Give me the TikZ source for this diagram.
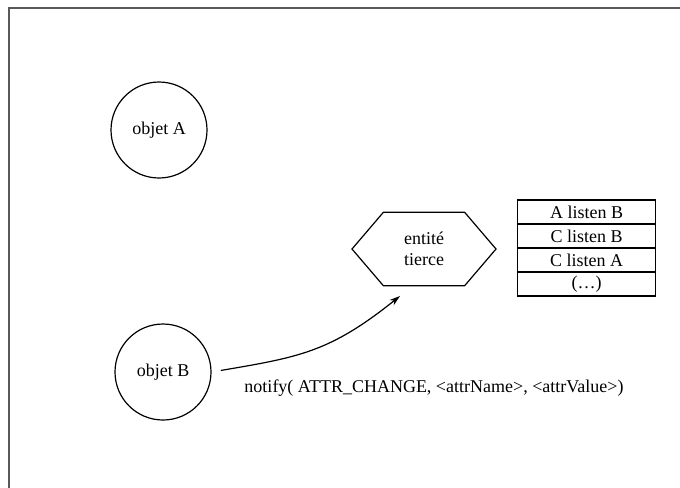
\documentclass[tikz,border=0pt]{standalone}
\usepackage{fontspec}
\setmainfont{Liberation Serif}
\usetikzlibrary{shapes.symbols,arrows.meta}

\begin{document}
\begin{tikzpicture}[x=0.75pt,y=-0.75pt,font=\fontsize{13.5}{15}\selectfont,
  obj/.style={circle,draw,line width=0.9pt,minimum size=72pt,inner sep=0pt},
  hexa/.style={signal,signal to=west and east,signal pointer angle=99,draw,line width=0.9pt,minimum width=108pt,minimum height=55pt,inner sep=0pt,align=center},
  cell/.style={rectangle,draw,line width=0.9pt,minimum width=104pt,minimum height=18pt,inner sep=0pt}]
\useasboundingbox (0,0) rectangle (680,487);
\draw[black!65,line width=0.9pt] (9,8) rectangle (690,497);
% objets
\node[obj] (objA) at (159,130) {objet A};
\node[obj] (objB) at (163,372) {objet B};
% entite tierce et table des ecouteurs
\node[hexa] (entite) at (424,249) {entit\'e\\[0.5pt]tierce};
\foreach \i/\t in %
{0/A listen B,1/C listen B,2/C listen A,3/(\ldots)} {
   \node[cell] (row\i) at (586.5,212+24*\i) {\t};
}
\coordinate (tip) at (400,296);
\draw[-{Stealth[length=8pt,width=5pt]},line width=0.9pt,shorten <=7pt] (objB.east)
   .. controls (300,357) and (330,352) .. (tip);
\node (msg) at (434,388) {notify( ATTR\_CHANGE, <attrName>, <attrValue>)};
\end{tikzpicture}
\end{document}
